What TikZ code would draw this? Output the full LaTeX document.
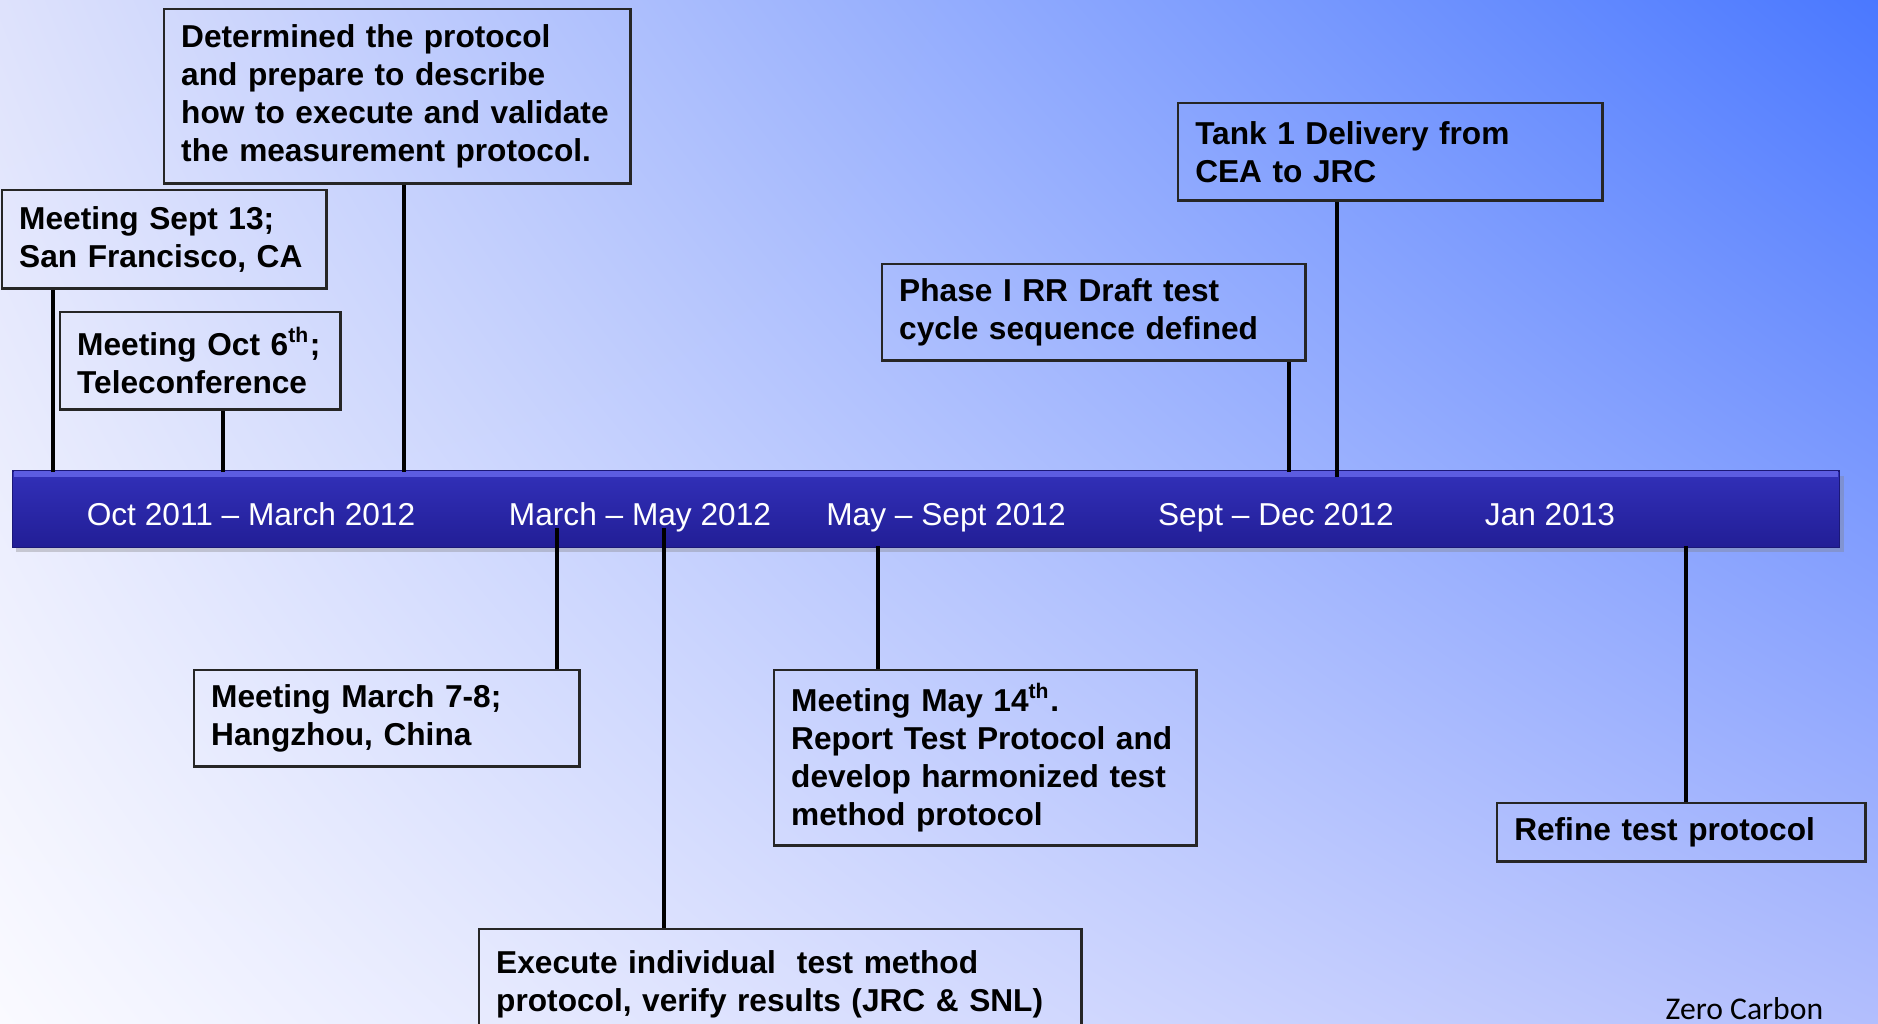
\documentclass[tikz,border=0pt]{standalone}
\usepackage{fontspec}
\setmainfont{Liberation Sans}
\newfontfamily\zcfont{Carlito}
\usetikzlibrary{shadows,shadings}

\definecolor{bgtl}{RGB}{222,226,252}
\definecolor{bgtr}{RGB}{74,120,255}
\definecolor{bgbl}{RGB}{250,250,255}
\definecolor{bgbr}{RGB}{178,190,253}
\definecolor{bartop}{RGB}{50,48,185}
\definecolor{barbot}{RGB}{34,30,150}
\definecolor{barhi}{RGB}{92,92,225}

\tikzset{
  event/.style={draw=black!85, line width=0.7pt, anchor=north west, align=left,
    inner xsep=0.17cm, inner ysep=0pt, font=\fontsize{9}{10.8}\selectfont\bfseries},
  stem/.style={line width=1.4pt, black},
  period/.style={text=white, inner sep=0pt, anchor=base, font=\fontsize{9}{10.8}\selectfont},
  timebar/.style={minimum width=18.26cm, minimum height=0.76cm, inner sep=0pt,
    top color=bartop, bottom color=barbot, draw=barbot!80!black, line width=0.3pt,
    drop shadow={opacity=0.35, shadow xshift=0.04cm, shadow yshift=-0.05cm}},
}

\begin{document}
\begin{tikzpicture}[x=0.01cm,y=-0.01cm]
	\clip (0,0) rectangle (1878,1023);
	\shade[upper left=bgtl, upper right=bgtr, lower left=bgbl, lower right=bgbr] (0,0) rectangle (1878,1023);

	\node[timebar] (bar) at (926,509) {};
	\fill[barhi] ([xshift=0.02cm,yshift=-0.01cm]bar.north west) rectangle ([xshift=-0.02cm,yshift=-0.07cm]bar.north east);
	\node[period] (p1) at (251,525) {Oct 2011 -- March 2012};
	\node[period] (p2) at (640,525) {March -- May 2012};
	\node[period] (p3) at (946,525) {May -- Sept 2012};
	\node[period] (p4) at (1276,525) {Sept -- Dec 2012};
	\node[period] (p5) at (1550,525) {Jan 2013};

	\node[event, text width=4.32cm, minimum height=1.74cm] (determ) at (163,8) {Determined the protocol\\ and prepare to describe\\ how to execute and validate\\ the measurement protocol.};
	\node[event, text width=2.90cm, minimum height=0.98cm] (sept) at (1,189) {Meeting Sept 13;\\ San Francisco, CA};
	\node[event, text width=2.46cm, minimum height=0.97cm] (oct) at (59,311) {Meeting Oct 6\textsuperscript{th};\\ Teleconference};
	\node[event, text width=3.89cm, minimum height=0.96cm] (phase) at (881,263) {Phase I RR Draft test\\ cycle sequence defined};
	\node[event, text width=3.90cm, minimum height=0.97cm] (tank) at (1177,102) {Tank 1 Delivery from\\ CEA to JRC};
	\node[event, text width=3.51cm, minimum height=0.96cm] (march) at (193,669) {Meeting March 7-8;\\ Hangzhou, China};
	\node[event, text width=5.68cm, minimum height=1.10cm] (exec) at (478,928) {Execute individual~ test method\\ protocol, verify results (JRC \& SNL)};
	\node[event, text width=3.88cm, minimum height=1.75cm] (may) at (773,669) {Meeting May 14\textsuperscript{th}.\\ Report Test Protocol and\\ develop harmonized test\\ method protocol};
	\node[event, text width=3.34cm, minimum height=0.58cm] (refine) at (1496,802) {Refine test protocol};

	\coordinate (c1) at (53,472);
	\coordinate (c2) at (223,472);
	\coordinate (c3) at (404,472);
	\coordinate (c4) at (1289,472);
	\coordinate (c5) at (1337,477);
	\coordinate (c6) at (557,528);
	\coordinate (c7) at (664,528);
	\coordinate (c8) at (878,546);
	\coordinate (c9) at (1686,546);
	\draw[stem] (c1) -- (c1 |- sept.south);
	\draw[stem] (c2) -- (c2 |- oct.south);
	\draw[stem] (c3) -- (c3 |- determ.south);
	\draw[stem] (c4) -- (c4 |- phase.south);
	\draw[stem] (c5) -- (c5 |- tank.south);
	\draw[stem] (c6) -- (c6 |- march.north);
	\draw[stem] (c7) -- (c7 |- exec.north);
	\draw[stem] (c8) -- (c8 |- may.north);
	\draw[stem] (c9) -- (c9 |- refine.north);

	\node[anchor=base west, inner sep=0pt, font=\zcfont\fontsize{9}{10.8}\selectfont] (zc) at (1665,1019) {Zero Carbon};
\end{tikzpicture}
\end{document}
